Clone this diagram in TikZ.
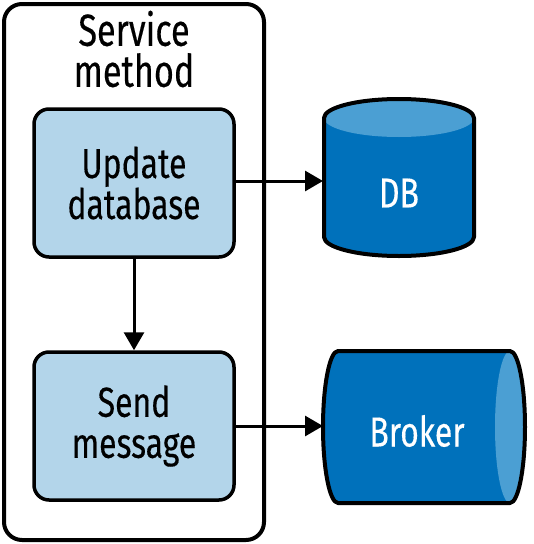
\documentclass[tikz,border=0pt]{standalone}
\usepackage{fontspec}
\setmainfont{Fira Sans}[FakeStretch=0.76,FakeBold=0.3]
\usetikzlibrary{arrows.meta}

\definecolor{boxblue}{HTML}{B3D5EA}
\definecolor{dbblue}{HTML}{0071BB}
\definecolor{dbtop}{HTML}{4B9FD3}

\tikzset{
  bigtext/.style={font=\fontsize{42pt}{41pt}\selectfont,align=center,inner sep=0pt},
  stepbox/.style={bigtext,draw,line width=3.5pt,fill=boxblue,rounded corners=15pt,
    minimum width=200pt,minimum height=148pt},
  flow/.style={line width=3pt,-{Triangle[width=20pt,length=18pt]}},
}

\begin{document}
\begin{tikzpicture}[x=1pt,y=-1pt,line join=round]
\useasboundingbox (0,0) rectangle (534,544);

% service method frame
\draw[line width=4pt,rounded corners=18pt] (4,4) rectangle (264,540);
\node[bigtext,font=\fontsize{45pt}{41pt}\selectfont] (title) at (134,49) {Service\\method};

\node[stepbox] (update) at (134,183) {Update\\database};
\node[stepbox] (send) at (134,426) {Send\\message};

% DB cylinder
\fill[dbblue] (324,118) -- (324,237) arc[start angle=180,end angle=360,x radius=75pt,y radius=19pt]
  -- (474,118) arc[start angle=0,end angle=180,x radius=75pt,y radius=19pt] -- cycle;
\fill[dbtop] (399,118) ellipse[x radius=75pt,y radius=19pt];
\draw[line width=4pt] (324,118) -- (324,237) arc[start angle=180,end angle=360,x radius=75pt,y radius=19pt]
  -- (474,118) arc[start angle=0,end angle=180,x radius=75pt,y radius=19pt] -- cycle;

% broker cylinder
\fill[dbblue] (338,351) -- (510,351) arc[start angle=90,end angle=-90,x radius=15pt,y radius=76pt]
  -- (338,503) arc[start angle=270,end angle=90,x radius=15pt,y radius=76pt] -- cycle;
\fill[dbtop] (510,427) ellipse[x radius=15pt,y radius=76pt];
\draw[line width=4pt] (338,351) -- (510,351) arc[start angle=90,end angle=-90,x radius=15pt,y radius=76pt]
  -- (338,503) arc[start angle=270,end angle=90,x radius=15pt,y radius=76pt] -- cycle;

\node[bigtext,text=white] (db) at (399,193) {DB};
\node[bigtext,text=white] (broker) at (417,431) {Broker};

\coordinate (dbin) at (323,181);
\coordinate (brokerin) at (323,426);

\draw[flow] (update.east |- dbin) -- (dbin);
\draw[flow] (update) -- (send);
\draw[flow] (send) -- (brokerin);
\end{tikzpicture}
\end{document}
